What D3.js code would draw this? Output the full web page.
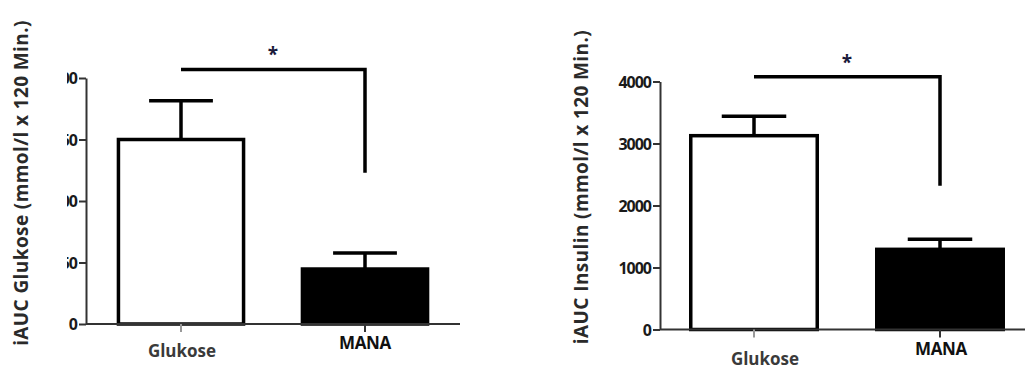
<!DOCTYPE html>
<html>
<head>
<meta charset="utf-8">
<script src="https://cdn.jsdelivr.net/npm/d3@7"></script>
<style>
  body { margin: 0; background: #fff; }
  svg { display: block; }
  text { font-family: "Open Sans", "Liberation Sans", sans-serif; font-weight: 700; }
</style>
</head>
<body>
<div id="chart"></div>
<script>
// iAUC glucose / insulin, Glukose vs MANA

// groups on the x axis
var groups = ["Glukose", "MANA"];

// left panel: glucose
var glucoseMean = [150, 44.7];
var glucoseSem = [31.5, 13];
var glucoseTicks = [0, 50, 100, 150, 200];
var glucoseBracket = [207, 123]; // bracket top, drop end

// right panel: insulin
var insulinMean = [3126, 1293];
var insulinSem = [313, 162];
var insulinTicks = [0, 1000, 2000, 3000, 4000];
var insulinBracket = [4077, 2319];

var svg = d3.select("#chart")
  .append("svg")
  .attr("width", 1025)
  .attr("height", 370);

// clip used to cut the left panel's tick labels like in the original
// (coordinates are relative to each tick group, i.e. the axis line)
svg.append("defs").append("clipPath")
  .attr("id", "tickclip")
  .append("rect")
  .attr("x", -19).attr("y", -20)
  .attr("width", 40).attr("height", 40);

function drawPanel(p) {
  var g = svg.append("g");

  var x = d3.scaleBand()
    .domain(groups)
    .range(p.xRange)
    .paddingInner(0.32)
    .paddingOuter(0.16);

  var y = d3.scaleLinear()
    .domain([0, p.ticks[p.ticks.length - 1]])
    .range(p.yRange);

  // y axis
  var leftAxis = d3.axisLeft(y)
    .tickValues(p.ticks)
    .tickFormat(d3.format("d"))
    .tickSize(7)
    .tickPadding(2)
    .tickSizeOuter(0);

  var yAxis = g.append("g")
    .attr("transform", `translate(${p.axisX},0)`)
    .call(leftAxis);
  yAxis.select(".domain").attr("stroke", "#333").attr("stroke-width", 2);
  yAxis.selectAll(".tick line").attr("stroke", "#333").attr("stroke-width", 2);
  yAxis.selectAll(".tick text")
    .attr("fill", "#1a1a1a")
    .style("font-size", "16px")
    .style("letter-spacing", "-1px")
    .attr("dy", "0.36em");
  if (p.clip) yAxis.selectAll(".tick text").attr("clip-path", "url(#tickclip)");

  // bars
  g.selectAll(".bar")
    .data(groups)
    .enter()
    .append("rect")
    .attr("x", d => x(d))
    .attr("y", (d, i) => y(p.mean[i]))
    .attr("width", x.bandwidth())
    .attr("height", (d, i) => y(0) - y(p.mean[i]))
    .attr("fill", (d, i) => i == 0 ? "#fff" : "#000")
    .attr("stroke", "#000")
    .attr("stroke-width", 3.5);

  // error bars (upper only)
  var capW = x.bandwidth() * 0.51;
  groups.forEach((d, i) => {
    var cx = x(d) + x.bandwidth() / 2;
    g.append("line")
      .attr("x1", cx).attr("x2", cx)
      .attr("y1", y(p.mean[i])).attr("y2", y(p.mean[i] + p.sem[i]))
      .attr("stroke", "#000").attr("stroke-width", 3.5);
    g.append("line")
      .attr("x1", cx - capW / 2).attr("x2", cx + capW / 2)
      .attr("y1", y(p.mean[i] + p.sem[i])).attr("y2", y(p.mean[i] + p.sem[i]))
      .attr("stroke", "#000").attr("stroke-width", 3.5);
  });

  // x axis baseline and ticks
  g.append("line")
    .attr("x1", p.axisX).attr("x2", p.xEnd)
    .attr("y1", y(0)).attr("y2", y(0))
    .attr("stroke", "#333").attr("stroke-width", 2);

  groups.forEach((d, i) => {
    var cx = x(d) + x.bandwidth() / 2;
    g.append("line")
      .attr("x1", cx).attr("x2", cx)
      .attr("y1", y(0)).attr("y2", y(0) + 8)
      .attr("stroke", i == 0 ? "#999" : "#333").attr("stroke-width", 2);
    g.append("text")
      .attr("x", cx + p.labelDx[i])
      .attr("y", p.labelY[i])
      .attr("text-anchor", "middle")
      .attr("fill", i == 0 ? "#3a3a3a" : "#111")
      .style("font-size", "17px")
      .style("letter-spacing", i == 0 ? "0px" : "-0.3px")
      .text(d);
  });

  // significance bracket
  var c0 = x(groups[0]) + x.bandwidth() / 2;
  var c1 = x(groups[1]) + x.bandwidth() / 2;
  g.append("path")
    .attr("d", `M${c0},${y(p.bracket[0])}H${c1}V${y(p.bracket[1])}`)
    .attr("fill", "none")
    .attr("stroke", "#000")
    .attr("stroke-width", 3.5);

  g.append("text")
    .attr("x", (c0 + c1) / 2)
    .attr("y", y(p.bracket[0]) - 8)
    .attr("text-anchor", "middle")
    .attr("fill", "#1a1a3a")
    .style("font-size", "19px")
    .text("*");

  // y title
  g.append("text")
    .attr("transform", `translate(${p.titleX},${p.titleY}) rotate(-90)`)
    .attr("text-anchor", "middle")
    .attr("fill", "#2a2a2a")
    .style("font-size", "19px")
    .style("letter-spacing", "0.4px")
    .text(p.title);
}

drawPanel({
  mean: glucoseMean, sem: glucoseSem, ticks: glucoseTicks, bracket: glucoseBracket,
  xRange: [89, 457], yRange: [324, 78], axisX: 86, xEnd: 460, clip: true,
  labelDx: [1, 0], labelY: [357, 349],
  title: "iAUC Glukose (mmol/l x 120 Min.)", titleX: 28, titleY: 183
});

drawPanel({
  mean: insulinMean, sem: insulinSem, ticks: insulinTicks, bracket: insulinBracket,
  xRange: [661, 1033], yRange: [329.5, 81.5], axisX: 660, xEnd: 1025, clip: false,
  labelDx: [11, 1], labelY: [365, 355],
  title: "iAUC Insulin (mmol/l x 120 Min.)", titleX: 588, titleY: 187
});
</script>
</body>
</html>
